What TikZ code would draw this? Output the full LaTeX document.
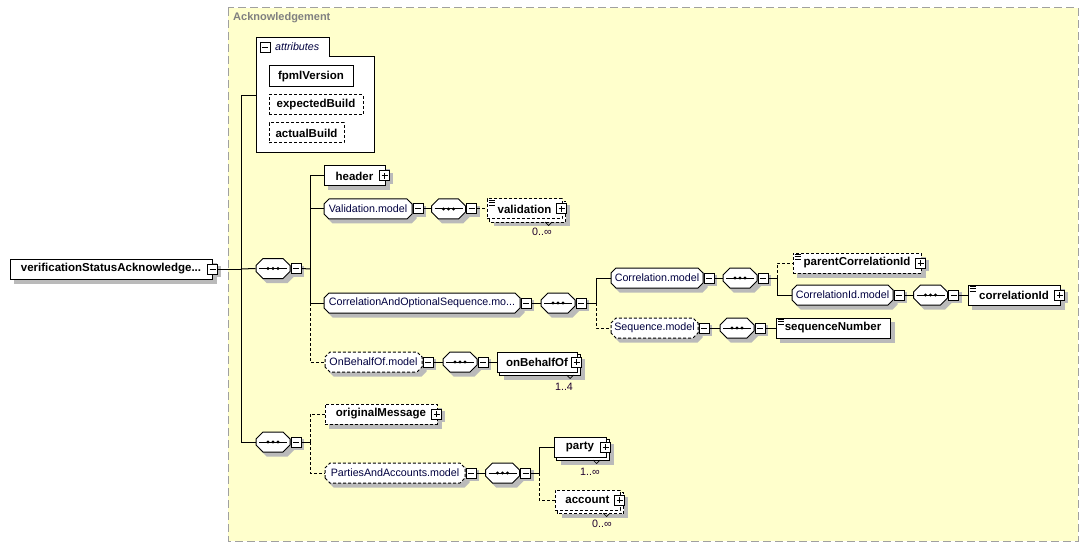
\documentclass[tikz,border=0pt]{standalone}
\usepackage{fontspec}
\setmainfont{Liberation Sans}

\definecolor{ackfill}{RGB}{255,255,204}
\definecolor{ackline}{RGB}{160,160,160}
\definecolor{acktext}{RGB}{128,128,128}
\definecolor{shadegray}{RGB}{186,186,186}
\definecolor{grpink}{RGB}{0,0,64}
\definecolor{occink}{RGB}{32,0,48}

\pgfdeclarelayer{back}
\pgfdeclarelayer{shadows}
\pgfsetlayers{back,shadows,main}

% box with cut corners for groups and compositors
\makeatletter
\newdimen\octL \newdimen\octR \newdimen\octB \newdimen\octT \newdimen\octC \newdimen\octS
\pgfkeys{/pgf/oct cut/.initial=5pt}
\pgfdeclareshape{octbox}{
  \inheritsavedanchors[from=rectangle]
  \inheritanchorborder[from=rectangle]
  \inheritanchor[from=rectangle]{center}
  \inheritanchor[from=rectangle]{text}
  \inheritanchor[from=rectangle]{north}
  \inheritanchor[from=rectangle]{south}
  \inheritanchor[from=rectangle]{east}
  \inheritanchor[from=rectangle]{west}
  \inheritanchor[from=rectangle]{north east}
  \inheritanchor[from=rectangle]{north west}
  \inheritanchor[from=rectangle]{south east}
  \inheritanchor[from=rectangle]{south west}
  \backgroundpath{%
    \pgfmathsetlength\octS{\pgfkeysvalueof{/pgf/outer xsep}}%
    \southwest \octL=\pgf@x \octB=\pgf@y
    \northeast \octR=\pgf@x \octT=\pgf@y
    \advance\octL by\octS \advance\octB by\octS
    \advance\octR by-\octS \advance\octT by-\octS
    \pgfmathsetlength\octC{\pgfkeysvalueof{/pgf/oct cut}}%
    \pgfpathmoveto{\pgfpoint{\octL}{\octB+\octC}}%
    \pgfpathlineto{\pgfpoint{\octL}{\octT-\octC}}%
    \pgfpathlineto{\pgfpoint{\octL+\octC}{\octT}}%
    \pgfpathlineto{\pgfpoint{\octR-\octC}{\octT}}%
    \pgfpathlineto{\pgfpoint{\octR}{\octT-\octC}}%
    \pgfpathlineto{\pgfpoint{\octR}{\octB+\octC}}%
    \pgfpathlineto{\pgfpoint{\octR-\octC}{\octB}}%
    \pgfpathlineto{\pgfpoint{\octL+\octC}{\octB}}%
    \pgfpathclose
  }
}
\makeatother

\begin{document}
\begin{tikzpicture}[x=1pt, y=-1pt,
    base/.style={draw, fill=white, line width=1pt, minimum height=20pt, inner sep=0pt},
    elem/.style={base, rectangle, font=\fontsize{11.5}{13}\selectfont\bfseries},
    opt/.style={dash pattern=on 3pt off 2pt},
    grp/.style={base, shape=octbox, oct cut=5pt, text=grpink, font=\fontsize{10.7}{12}\selectfont},
    seq/.style={base, shape=octbox, oct cut=7pt, minimum width=34pt,
      path picture={\draw[line width=1pt] ([xshift=3pt]path picture bounding box.west) -- ([xshift=-3pt]path picture bounding box.east);
        \fill[black] ([xshift=-5pt]path picture bounding box.center) circle[radius=1.6pt];
        \fill[black] (path picture bounding box.center) circle[radius=1.6pt];
        \fill[black] ([xshift=5pt]path picture bounding box.center) circle[radius=1.6pt];}},
    tgl/.style={draw, fill=white, line width=1pt, minimum size=10pt, inner sep=0pt},
    minus/.style={tgl, path picture={\draw[line width=1pt] ([xshift=2pt]path picture bounding box.west) -- ([xshift=-2pt]path picture bounding box.east);}},
    plus/.style={tgl, path picture={\draw[line width=1pt] ([xshift=2pt]path picture bounding box.west) -- ([xshift=-2pt]path picture bounding box.east)
        ([yshift=-2pt]path picture bounding box.north) -- ([yshift=2pt]path picture bounding box.south);}},
    shadowfill/.style={fill=shadegray, draw=none},
    occ/.style={font=\fontsize{10.7}{12}\selectfont, text=occink, inner sep=0pt},
    link/.style={line width=1pt},
    icon/.style={line width=0.7pt},
  ]
  \useasboundingbox (0,0) rectangle (1087,548);

  % complex type box
  \begin{pgfonlayer}{back}
    \draw[ackline, fill=ackfill, line width=1pt, dash pattern=on 8pt off 4pt] (228,8) rectangle (1078,541);
  \end{pgfonlayer}
  \node[anchor=west, inner sep=0pt, text=acktext, font=\fontsize{11}{13}\selectfont\bfseries] (acktitle) at (233,18) {Acknowledgement};

  % root element
  \node[elem, minimum width=202pt] (root) at (111,269) {verificationStatusAcknowledge...};
  \node[minus] (rootT) at (root.east) {};

  % attributes
  \draw[fill=white, line width=1pt] (256,153) -- (256,38) -- (329,38) -- (329,57) -- (374,57) -- (374,153) -- cycle;
  \coordinate (attrs) at (256,96);
  \node[minus] (attrsT) at (265,47.5) {};
  \node[anchor=west, inner sep=0pt, text=grpink, font=\fontsize{10.7}{12}\selectfont\itshape] (attrlbl) at (275,47) {attributes};
  \node[elem, minimum width=84pt, minimum height=21pt] (fpml) at (311,76.5) {fpmlVersion};
  \node[elem, opt, minimum width=94pt] (expb) at (316,105) {expectedBuild};
  \node[elem, opt, minimum width=75pt] (actb) at (306.5,133) {actualBuild};

  % first sequence
  \node[seq] (seqA) at (273,268.5) {};
  \node[minus, anchor=west] (seqAT) at (seqA.east) {};

  \node[elem, minimum width=61pt] (header) at (354.5,176) {header};
  \node[plus] (headerT) at ([xshift=-1pt]header.east) {};

  \node[grp, minimum width=88pt] (valm) at (368,209) {Validation.model};
  \node[minus, anchor=west] (valmT) at (valm.east) {};
  \node[seq] (seqV) at (448.5,209) {};
  \node[minus, anchor=west] (seqVT) at (seqV.east) {};
  \node[elem, opt, minimum width=75pt] (validation) at (524.5,209) {validation};
  \node[plus] (validationT) at ([xshift=-1pt]validation.east) {};
  \node[occ] (validationO) at (542,232) {0..∞};
  \draw[icon] (545,222) -- (548.5,225.5) -- (552,222);

  \node[grp, minimum width=196pt] (caosm) at (422,303) {CorrelationAndOptionalSequence.mo...};
  \node[minus, anchor=west] (caosmT) at (caosm.east) {};
  \node[seq] (seqC) at (558,303) {};
  \node[minus, anchor=west] (seqCT) at (seqC.east) {};

  \node[grp, minimum width=92pt] (corm) at (657,278) {Correlation.model};
  \node[minus, anchor=west] (cormT) at (corm.east) {};
  \node[seq] (seqCo) at (740,278) {};
  \node[minus, anchor=west] (seqCoT) at (seqCo.east) {};
  \node[elem, opt, minimum width=128pt] (pcid) at (857,263) {parentCorrelationId};
  \node[plus] (pcidT) at ([xshift=-1pt]pcid.east) {};
  \node[grp, minimum width=101pt] (cidm) at (842.5,295) {CorrelationId.model};
  \node[minus, anchor=west] (cidmT) at (cidm.east) {};
  \node[seq] (seqCI) at (930.5,295) {};
  \node[minus, anchor=west] (seqCIT) at (seqCI.east) {};
  \node[elem, minimum width=92pt] (cid) at (1014,295) {correlationId};
  \node[plus] (cidT) at ([xshift=-1pt]cid.east) {};

  \node[grp, opt, minimum width=87pt] (seqm) at (654.5,328) {Sequence.model};
  \node[minus, anchor=west] (seqmT) at (seqm.east) {};
  \node[seq] (seqS) at (737,328) {};
  \node[minus, anchor=west] (seqST) at (seqS.east) {};
  \node[elem, minimum width=114pt] (seqn) at (833,328) {sequenceNumber};

  \node[grp, opt, minimum width=97pt] (obom) at (373.5,362) {OnBehalfOf.model};
  \node[minus, anchor=west] (obomT) at (obom.east) {};
  \node[seq] (seqO) at (460,362) {};
  \node[minus, anchor=west] (seqOT) at (seqO.east) {};
  \node[elem, minimum width=80pt] (obo) at (537,362) {onBehalfOf};
  \node[plus] (oboT) at ([xshift=-1pt]obo.east) {};
  \node[occ] (oboO) at (564,387) {1..4};
  \draw[icon] (566.5,375) -- (570,378.5) -- (573.5,375);

  % second sequence
  \node[seq] (seqB) at (273,442) {};
  \node[minus, anchor=west] (seqBT) at (seqB.east) {};
  \node[elem, opt, minimum width=112pt] (origm) at (381,414) {originalMessage};
  \node[plus] (origmT) at ([xshift=-1pt]origm.east) {};
  \node[grp, opt, minimum width=140pt] (paam) at (395,473) {PartiesAndAccounts.model};
  \node[minus, anchor=west] (paamT) at (paam.east) {};
  \node[seq] (seqP) at (502.5,473) {};
  \node[minus, anchor=west] (seqPT) at (seqP.east) {};
  \node[elem, minimum width=52pt] (party) at (580,447) {party};
  \node[plus] (partyT) at ([xshift=-1pt]party.east) {};
  \node[occ] (partyO) at (590,472) {1..∞};
  \draw[icon] (593,460) -- (596.5,463.5) -- (600,460);
  \node[elem, opt, minimum width=65pt] (acct) at (587.5,500) {account};
  \node[plus] (acctT) at ([xshift=-1pt]acct.east) {};
  \node[occ] (acctO) at (602,524) {0..∞};
  \draw[icon] (603,513) -- (606.5,516.5) -- (610,513);

  % simple content marks
  \draw[icon] ([shift={(2pt,-2pt)}]validation.north west) -- ++(6,0);
  \draw[icon] ([shift={(2pt,-4.2pt)}]validation.north west) -- ++(6,0);
  \draw[icon] ([shift={(2pt,-6.4pt)}]validation.north west) -- ++(6,0);
  \draw[icon] ([shift={(2pt,-2pt)}]pcid.north west) -- ++(6,0);
  \draw[icon] ([shift={(2pt,-4.2pt)}]pcid.north west) -- ++(6,0);
  \draw[icon] ([shift={(2pt,-6.4pt)}]pcid.north west) -- ++(6,0);
  \draw[icon] ([shift={(2pt,-2pt)}]cid.north west) -- ++(6,0);
  \draw[icon] ([shift={(2pt,-4.2pt)}]cid.north west) -- ++(6,0);
  \draw[icon] ([shift={(2pt,-6.4pt)}]cid.north west) -- ++(6,0);
  \draw[icon] ([shift={(2pt,-2pt)}]seqn.north west) -- ++(6,0);
  \draw[icon] ([shift={(2pt,-4.2pt)}]seqn.north west) -- ++(6,0);
  \draw[icon] ([shift={(2pt,-6.4pt)}]seqn.north west) -- ++(6,0);

  % shadows and stacked copies, behind the nodes
  \begin{pgfonlayer}{shadows}
    \foreach \n in {rootT, seqAT, headerT, valmT, seqVT, validationT, caosmT, seqCT, cormT, seqCoT,
        pcidT, cidmT, seqCIT, cidT, seqmT, seqST, obomT, seqOT, oboT, seqBT, origmT, paamT, seqPT, partyT, acctT}
      \path[shadowfill] ([xshift=2.5pt, yshift=-2.5pt]\n.south west) rectangle ([xshift=2.5pt, yshift=-2.5pt]\n.north east);
    \foreach \n in {root, fpml, expb, actb, header, pcid, cid, seqn, origm}
      \path[shadowfill] ([xshift=4pt, yshift=-4pt]\n.south west) rectangle ([xshift=4pt, yshift=-4pt]\n.north east);
    \foreach \n/\c in {valm/5, caosm/5, corm/5, cidm/5, seqm/5, obom/5, paam/5,
        seqA/7, seqV/7, seqC/7, seqCo/7, seqCI/7, seqS/7, seqO/7, seqB/7, seqP/7}
      \path[shadowfill] ([shift={(4pt,-4pt-\c pt)}]\n.north west) -- ([shift={(4pt+\c pt,-4pt)}]\n.north west)
        -- ([shift={(4pt-\c pt,-4pt)}]\n.north east) -- ([shift={(4pt,-4pt-\c pt)}]\n.north east)
        -- ([shift={(4pt,-4pt+\c pt)}]\n.south east) -- ([shift={(4pt-\c pt,-4pt)}]\n.south east)
        -- ([shift={(4pt+\c pt,-4pt)}]\n.south west) -- ([shift={(4pt,-4pt+\c pt)}]\n.south west) -- cycle;
    \foreach \n in {validation, obo, party, acct}
      \path[shadowfill] ([xshift=7pt, yshift=-7pt]\n.south west) rectangle ([xshift=7pt, yshift=-7pt]\n.north east);
    \draw[opt, fill=white, line width=1pt] ([xshift=3pt, yshift=-3pt]validation.south west) rectangle ([xshift=3pt, yshift=-3pt]validation.north east);
    \draw[fill=white, line width=1pt] ([xshift=3pt, yshift=-3pt]obo.south west) rectangle ([xshift=3pt, yshift=-3pt]obo.north east);
    \draw[fill=white, line width=1pt] ([xshift=3pt, yshift=-3pt]party.south west) rectangle ([xshift=3pt, yshift=-3pt]party.north east);
    \draw[opt, fill=white, line width=1pt] ([xshift=3pt, yshift=-3pt]acct.south west) rectangle ([xshift=3pt, yshift=-3pt]acct.north east);
  \end{pgfonlayer}

  % connectors
  \coordinate (j0) at (241,269);
  \draw[link] (rootT.east) -- (j0);
  \draw[link] (j0) |- (attrs);
  \draw[link] (j0) -- (seqA.west);
  \draw[link] (j0) |- (seqB.west);

  \coordinate (j1) at (310,269);
  \draw[link] (seqAT.east) -- (j1);
  \draw[link] (j1) |- (header.west);
  \draw[link] (j1) |- (valm.west);
  \draw[link] (j1) |- (caosm.west);
  \draw[link, opt] (caosm.west -| j1) |- (obom.west);
  \draw[link] (valmT.east) -- (seqV.west);
  \draw[link, opt] (seqVT.east) -- (validation.west);
  \draw[link] (caosmT.east) -- (seqC.west);

  \coordinate (j2) at (596,303);
  \draw[link] (seqCT.east) -- (j2);
  \draw[link] (j2) |- (corm.west);
  \draw[link, opt] (j2) |- (seqm.west);
  \draw[link] (cormT.east) -- (seqCo.west);

  \coordinate (j3) at (777,278);
  \draw[link] (seqCoT.east) -- (j3);
  \draw[link, opt] (j3) |- (pcid.west);
  \draw[link] (j3) |- (cidm.west);
  \draw[link] (cidmT.east) -- (seqCI.west);
  \draw[link] (seqCIT.east) -- (cid.west);
  \draw[link] (seqmT.east) -- (seqS.west);
  \draw[link] (seqST.east) -- (seqn.west);
  \draw[link] (obomT.east) -- (seqO.west);
  \draw[link] (seqOT.east) -- (obo.west);

  \coordinate (j4) at (310,442);
  \draw[link] (seqBT.east) -- (j4);
  \draw[link, opt] (j4) |- (origm.west);
  \draw[link, opt] (j4) |- (paam.west);
  \draw[link] (paamT.east) -- (seqP.west);

  \coordinate (j5) at (539,473);
  \draw[link] (seqPT.east) -- (j5);
  \draw[link] (j5) |- (party.west);
  \draw[link, opt] (j5) |- (acct.west);
\end{tikzpicture}
\end{document}
